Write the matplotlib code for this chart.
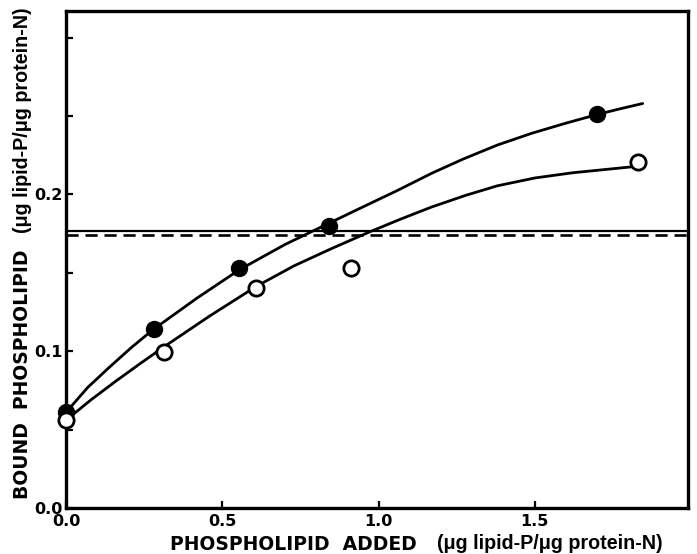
import matplotlib
matplotlib.use("Agg")
import matplotlib.pyplot as plt
from matplotlib.ticker import FixedLocator

# Measured data points
filled_x = [0.00, 0.28, 0.555, 0.84, 1.70]
filled_y = [0.061, 0.114, 0.153, 0.180, 0.2515]
open_x = [0.00, 0.315, 0.608, 0.913, 1.829]
open_y = [0.056, 0.0998, 0.1403, 0.1533, 0.2206]

# Hand-drawn fitted curves
filled_curve_x = [0.00, 0.07, 0.14, 0.21, 0.28, 0.42, 0.555, 0.70, 0.84, 0.96, 1.06, 1.17,
                  1.27, 1.38, 1.49, 1.60, 1.70, 1.77, 1.845]
filled_curve_y = [0.061, 0.077, 0.090, 0.1025, 0.114, 0.134, 0.152, 0.168, 0.1815, 0.193,
                  0.2025, 0.2135, 0.2225, 0.2315, 0.2390, 0.2455, 0.2510, 0.2545, 0.2580]
open_curve_x = [0.00, 0.08, 0.16, 0.24, 0.315, 0.46, 0.61, 0.73, 0.85, 0.97, 1.07, 1.17,
                1.28, 1.38, 1.50, 1.62, 1.72, 1.81]
open_curve_y = [0.056, 0.069, 0.081, 0.0925, 0.1030, 0.1225, 0.1415, 0.1545, 0.1655, 0.1760,
                0.1842, 0.1920, 0.1995, 0.2055, 0.2105, 0.2138, 0.2158, 0.2176]

# Reference horizontal levels
solid_level = 0.1766
dashed_level = 0.1741

x_ticks = [0.0, 0.5, 1.0, 1.5]
x_tick_labels = ["0.0", "0.5", "1.0", "1.5"]
y_ticks = [0.0, 0.1, 0.2]
y_tick_labels = ["0.0", "0.1", "0.2"]
y_minor_ticks = [0.05, 0.15, 0.25, 0.30]

W, H = 697, 554
fig = plt.figure(figsize=(W / 100, H / 100), dpi=100)
ax = fig.add_axes([66 / W, 1 - 508 / H, (688 - 66) / W, (508 - 11) / H])

ax.axhline(solid_level, color="black", lw=1.6, ls="-")
ax.axhline(dashed_level, color="black", lw=1.9, ls=(0, (4.6, 2.6)))

ax.plot(filled_curve_x, filled_curve_y, color="black", lw=2.0, clip_on=False, zorder=3,
        solid_joinstyle="round", solid_capstyle="round")
ax.plot(open_curve_x, open_curve_y, color="black", lw=2.0, clip_on=False, zorder=3,
        solid_joinstyle="round", solid_capstyle="round")

ax.plot(filled_x, filled_y, "o", ms=11, mfc="black", mec="black", mew=1.5,
        ls="none", clip_on=False, zorder=5)
ax.plot(open_x, open_y, "o", ms=11, mfc="white", mec="black", mew=2.0,
        ls="none", clip_on=False, zorder=6)

ax.set_xlim(0.0, 1.99)
ax.set_ylim(0.0, 0.317)

for s in ax.spines.values():
    s.set_linewidth(2.4)

ax.xaxis.set_major_locator(FixedLocator(x_ticks))
ax.set_xticklabels(x_tick_labels)
ax.yaxis.set_major_locator(FixedLocator(y_ticks))
ax.set_yticklabels(y_tick_labels)
ax.yaxis.set_minor_locator(FixedLocator(y_minor_ticks))

ax.tick_params(axis="both", which="both", direction="in", width=1.6)
ax.tick_params(axis="both", which="major", length=5)
ax.tick_params(axis="y", which="minor", length=5)
ax.tick_params(axis="x", which="major", pad=4.5)
ax.tick_params(axis="y", which="major", pad=2.5)

for lab in ax.get_xticklabels() + ax.get_yticklabels():
    lab.set_fontfamily("DejaVu Sans")
    lab.set_fontweight("bold")
    lab.set_fontsize(11.5)

caps_font = dict(fontsize=13.5, fontweight="bold", family="DejaVu Sans")
unit_font = dict(fontsize=14.2, fontweight="bold", family=["Liberation Sans", "DejaVu Sans"])

# X label (two parts)
fig.text(170 / W, 1 - 550 / H, "PHOSPHOLIPID  ADDED", ha="left", va="baseline", **caps_font)
fig.text(663 / W, 1 - 549 / H, "(μg lipid-P/μg protein-N)", ha="right", va="baseline", **unit_font)

# Y label (two parts)
fig.text(28 / W, 1 - 499 / H, "BOUND  PHOSPHOLIPID", ha="left", va="baseline", rotation=90,
         rotation_mode="anchor", **caps_font)
fig.text(28 / W, 1 - 7 / H, "(μg lipid-P/μg protein-N)", ha="right", va="baseline", rotation=90,
         rotation_mode="anchor", **unit_font)

fig.savefig("out.png", dpi=100)
